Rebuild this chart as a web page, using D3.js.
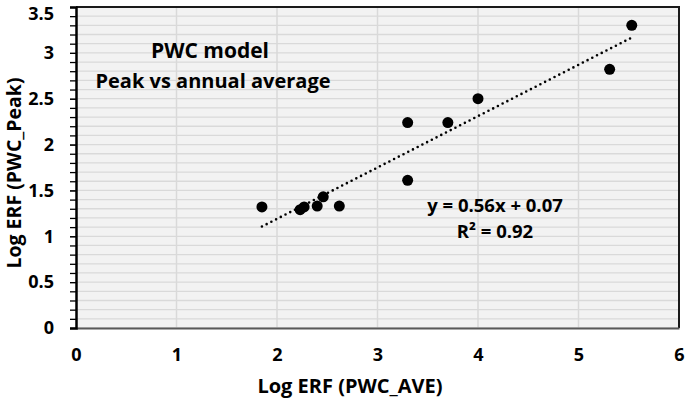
<!DOCTYPE html>
<html>
<head>
<meta charset="utf-8">
<script src="https://cdn.jsdelivr.net/npm/d3@7"></script>
<style>
  body { margin: 0; background: #fff; }
  text { font-family: "Open Sans", "Liberation Sans", sans-serif; font-weight: bold; fill: #000; }
</style>
</head>
<body>
<div id="chart"></div>
<script>
var width = 685, height = 401;

// data
var xAve = [1.85, 2.23, 2.27, 2.40, 2.46, 2.62, 3.30, 3.30, 3.70, 4.00, 5.31, 5.53];
var yPeak = [1.32, 1.29, 1.32, 1.33, 1.43, 1.33, 2.24, 1.61, 2.24, 2.50, 2.82, 3.30];
var trendSlope = 0.56, trendIntercept = 0.07;
var xTicks = [0, 1, 2, 3, 4, 5, 6];
var yTicks = [0, 0.5, 1, 1.5, 2, 2.5, 3, 3.5];
var yMinor = d3.range(0, 3.51, 0.1);

var x = d3.scaleLinear().domain([0, 6]).range([76, 679]);
var y = d3.scaleLinear().domain([0, 3.5]).range([328, 7]);

var svg = d3.select('#chart').append('svg')
    .attr('width', width)
    .attr('height', height);

// plot background
svg.append('rect')
    .attr('x', x(0)).attr('y', y(3.5))
    .attr('width', x(6) - x(0)).attr('height', y(0) - y(3.5))
    .attr('fill', '#f2f2f2');

// gridlines
svg.append('g').selectAll('line').data(yMinor).join('line')
    .attr('x1', x(0)).attr('x2', x(6))
    .attr('y1', function(d){ return y(d) }).attr('y2', function(d){ return y(d) })
    .attr('stroke', '#d9d9d9').attr('stroke-width', 1.3);

svg.append('g').selectAll('line').data(xTicks.slice(1, -1)).join('line')
    .attr('x1', function(d){ return x(d) }).attr('x2', function(d){ return x(d) })
    .attr('y1', y(0)).attr('y2', y(3.5))
    .attr('stroke', '#d9d9d9').attr('stroke-width', 1.5);

// border top / right
svg.append('path')
    .attr('d', 'M' + x(0) + ',' + y(3.5) + 'H' + x(6) + 'V' + y(0))
    .attr('fill', 'none').attr('stroke', '#1a1a1a').attr('stroke-width', 2);

// x axis
var xAxis = svg.append('g')
    .attr('transform', 'translate(0,' + y(0) + ')')
    .call(d3.axisBottom(x).tickValues(xTicks).tickSize(0).tickPadding(20).tickFormat(d3.format('d')));
xAxis.select('.domain').attr('stroke', '#595959').attr('stroke-width', 1.8);
xAxis.selectAll('text').style('font-size', '18px');

// y axis minor ticks
svg.append('g')
    .attr('transform', 'translate(' + x(0) + ',0)')
    .call(d3.axisLeft(y).tickValues(yMinor).tickSize(6).tickFormat(''))
    .call(function(g){ g.select('.domain').remove() })
    .selectAll('line').attr('stroke', '#000').attr('stroke-width', 1.3);

var yAxis = svg.append('g')
    .attr('transform', 'translate(' + x(0) + ',0)')
    .call(d3.axisLeft(y).tickValues(yTicks).tickSize(6).tickPadding(16).tickFormat(function(d){ return String(d) }));
yAxis.select('.domain').attr('stroke', '#000').attr('stroke-width', 2.5);
yAxis.selectAll('line').attr('stroke', '#000');
yAxis.selectAll('text').style('font-size', '18px');
// top label sits right at the edge; nudge it down a little
yAxis.selectAll('.tick').filter(function(d){ return d === 3.5 }).select('text').attr('dy', '0.72em');

// trendline
var tx = [d3.min(xAve), d3.max(xAve)];
svg.append('path')
    .attr('d', d3.line()
        .x(function(d){ return x(d) })
        .y(function(d){ return y(trendSlope * d + trendIntercept) })(tx))
    .attr('fill', 'none')
    .attr('stroke', '#000')
    .attr('stroke-width', 2.6)
    .attr('stroke-linecap', 'round')
    .attr('stroke-dasharray', '0,5.3');

// points
svg.append('g').selectAll('circle').data(xAve).join('circle')
    .attr('cx', function(d){ return x(d) })
    .attr('cy', function(d, i){ return y(yPeak[i]) })
    .attr('r', 5.5)
    .attr('fill', '#000');

// annotations
svg.append('text').attr('x', 210).attr('y', 58).attr('text-anchor', 'middle')
    .style('font-size', '21px').text('PWC model');
svg.append('text').attr('x', 213).attr('y', 88).attr('text-anchor', 'middle')
    .style('font-size', '20px').text('Peak vs annual average');
svg.append('text').attr('x', 495).attr('y', 212).attr('text-anchor', 'middle')
    .style('font-size', '18.5px').text('y = 0.56x + 0.07');
svg.append('text').attr('x', 495).attr('y', 238).attr('text-anchor', 'middle')
    .style('font-size', '18.5px').text('R² = 0.92');

// axis titles
svg.append('text').attr('x', 350).attr('y', 393).attr('text-anchor', 'middle')
    .style('font-size', '20px').text('Log ERF (PWC_AVE)');
svg.append('text').attr('transform', 'translate(21,173) rotate(-90)').attr('text-anchor', 'middle')
    .style('font-size', '19.5px').text('Log ERF (PWC_Peak)');
</script>
</body>
</html>
